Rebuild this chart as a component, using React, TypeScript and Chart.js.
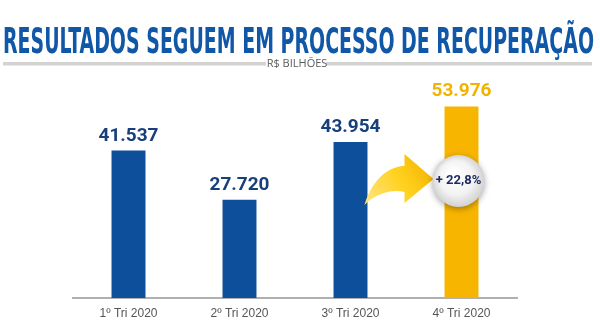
import React, { useEffect, useRef } from "react";
import { Chart, registerables } from "chart.js";

Chart.register(...registerables);

const categories = ["1º Tri 2020", "2º Tri 2020", "3º Tri 2020", "4º Tri 2020"];
const values = [41.537, 27.72, 43.954, 53.976];
const valueLabels = ["41.537", "27.720", "43.954", "53.976"];
const barColors = ["#0d4f9b", "#0d4f9b", "#0d4f9b", "#f7b500"];
const labelColors = ["#163f7c", "#163f7c", "#163f7c", "#f2b300"];
const titleText = "RESULTADOS SEGUEM EM PROCESSO DE RECUPERAÇÃO";
const subtitleText = "R$ BILHÕES";
const growthText = "+ 22,8%";

const decorPlugin = {
  id: "decor",
  beforeDraw(chart: any) {
    const ctx = chart.ctx;
    ctx.save();
    ctx.fillStyle = "#ffffff";
    ctx.fillRect(0, 0, chart.width, chart.height);
    // title
    ctx.font = 'bold 36px "DejaVu Sans Condensed", "DejaVu Sans", sans-serif';
    const w = ctx.measureText(titleText).width;
    const target = 591;
    ctx.translate(3, 53);
    ctx.scale(target / w, 1);
    ctx.fillStyle = "#1157a8";
    ctx.textBaseline = "alphabetic";
    ctx.textAlign = "left";
    ctx.fillText(titleText, 0, 0);
    ctx.restore();
    // subtitle bars
    ctx.save();
    ctx.fillStyle = "#d3d3d3";
    ctx.fillRect(3, 62, 263, 3.5);
    ctx.fillRect(326, 62, 266, 3.5);
    ctx.fillStyle = "#5a5a5a";
    ctx.font = '11px "Open Sans", sans-serif';
    ctx.textAlign = "center";
    ctx.textBaseline = "middle";
    ctx.fillText(subtitleText, 297, 64);
    ctx.restore();
  },
  afterDatasetsDraw(chart: any) {
    const ctx = chart.ctx;
    const meta = chart.getDatasetMeta(0);
    const yScale = chart.scales.y;
    ctx.save();
    ctx.font = 'bold 19px Roboto, "DejaVu Sans", sans-serif';
    ctx.textAlign = "center";
    ctx.textBaseline = "alphabetic";
    meta.data.forEach((bar: any, i: number) => {
      ctx.fillStyle = labelColors[i];
      ctx.fillText(valueLabels[i], bar.x, bar.y - 10);
    });
    ctx.restore();

    // arrow from bar 3 to bar 4
    const b3 = meta.data[2];
    const b4 = meta.data[3];
    const half = b3.width / 2;
    const x0 = b3.x + half;
    const cy = yScale.getPixelForValue(33);
    const cx = b4.x - 3;
    const tipX = cx - 25;
    const headBase = tipX - 29;
    ctx.save();
    const grad = ctx.createLinearGradient(x0, cy + 20, tipX, cy - 20);
    grad.addColorStop(0, "#ffe37a");
    grad.addColorStop(0.5, "#ffd21f");
    grad.addColorStop(1, "#f5b000");
    ctx.fillStyle = grad;
    ctx.beginPath();
    ctx.moveTo(x0 - 3, cy + 24);
    ctx.bezierCurveTo(x0 + 6, cy - 6, x0 + 25, cy - 15, headBase, cy - 15);
    ctx.lineTo(headBase, cy - 27);
    ctx.lineTo(tipX, cy - 2);
    ctx.lineTo(headBase, cy + 22);
    ctx.lineTo(headBase, cy + 11);
    ctx.bezierCurveTo(x0 + 26, cy + 8, x0 + 8, cy + 12, x0 - 3, cy + 24);
    ctx.closePath();
    ctx.fill();
    ctx.restore();

    // bubble
    ctx.save();
    ctx.shadowColor = "rgba(0,0,0,0.35)";
    ctx.shadowBlur = 6;
    ctx.shadowOffsetY = 2;
    const bg = ctx.createRadialGradient(cx - 6, cy - 8, 2, cx, cy, 27);
    bg.addColorStop(0, "#ffffff");
    bg.addColorStop(0.6, "#f3f3f3");
    bg.addColorStop(1, "#cfcfcf");
    ctx.fillStyle = bg;
    ctx.beginPath();
    ctx.arc(cx, cy, 26, 0, Math.PI * 2);
    ctx.fill();
    ctx.restore();
    ctx.save();
    ctx.fillStyle = "#1b2a5e";
    ctx.font = 'bold 13px Roboto, "DejaVu Sans", sans-serif';
    ctx.textAlign = "center";
    ctx.textBaseline = "middle";
    ctx.fillText(growthText, cx, cy);
    ctx.restore();
  },
};

export default function App() {
  const ref = useRef<HTMLCanvasElement | null>(null);
  useEffect(() => {
    document.body.style.margin = "0";
    if (!ref.current) return;
    const chart = new Chart(ref.current, {
      type: "bar",
      data: {
        labels: categories,
        datasets: [
          {
            data: values,
            backgroundColor: barColors,
            barPercentage: 0.306,
            categoryPercentage: 1,
          },
        ],
      },
      options: {
        animation: false,
        responsive: false,
        layout: { padding: { left: 73, right: 83, top: 78, bottom: 0 } },
        plugins: { legend: { display: false }, tooltip: { enabled: false } },
        scales: {
          x: {
            grid: { display: false, drawTicks: false },
            border: { display: true, color: "#b0b0b0", width: 2 },
            ticks: { color: "#555555", font: { family: "Arial, 'Liberation Sans', sans-serif", size: 12 }, padding: 8 },
            afterFit: (s: any) => {
              s.height = 27;
            },
          },
          y: { display: false, min: 0, max: 62 },
        },
      },
      plugins: [decorPlugin],
    });
    return () => chart.destroy();
  }, []);
  return (
    <div style={{ width: 600, height: 325 }}>
      <canvas ref={ref} width={600} height={325} style={{ display: "block" }} />
    </div>
  );
}
